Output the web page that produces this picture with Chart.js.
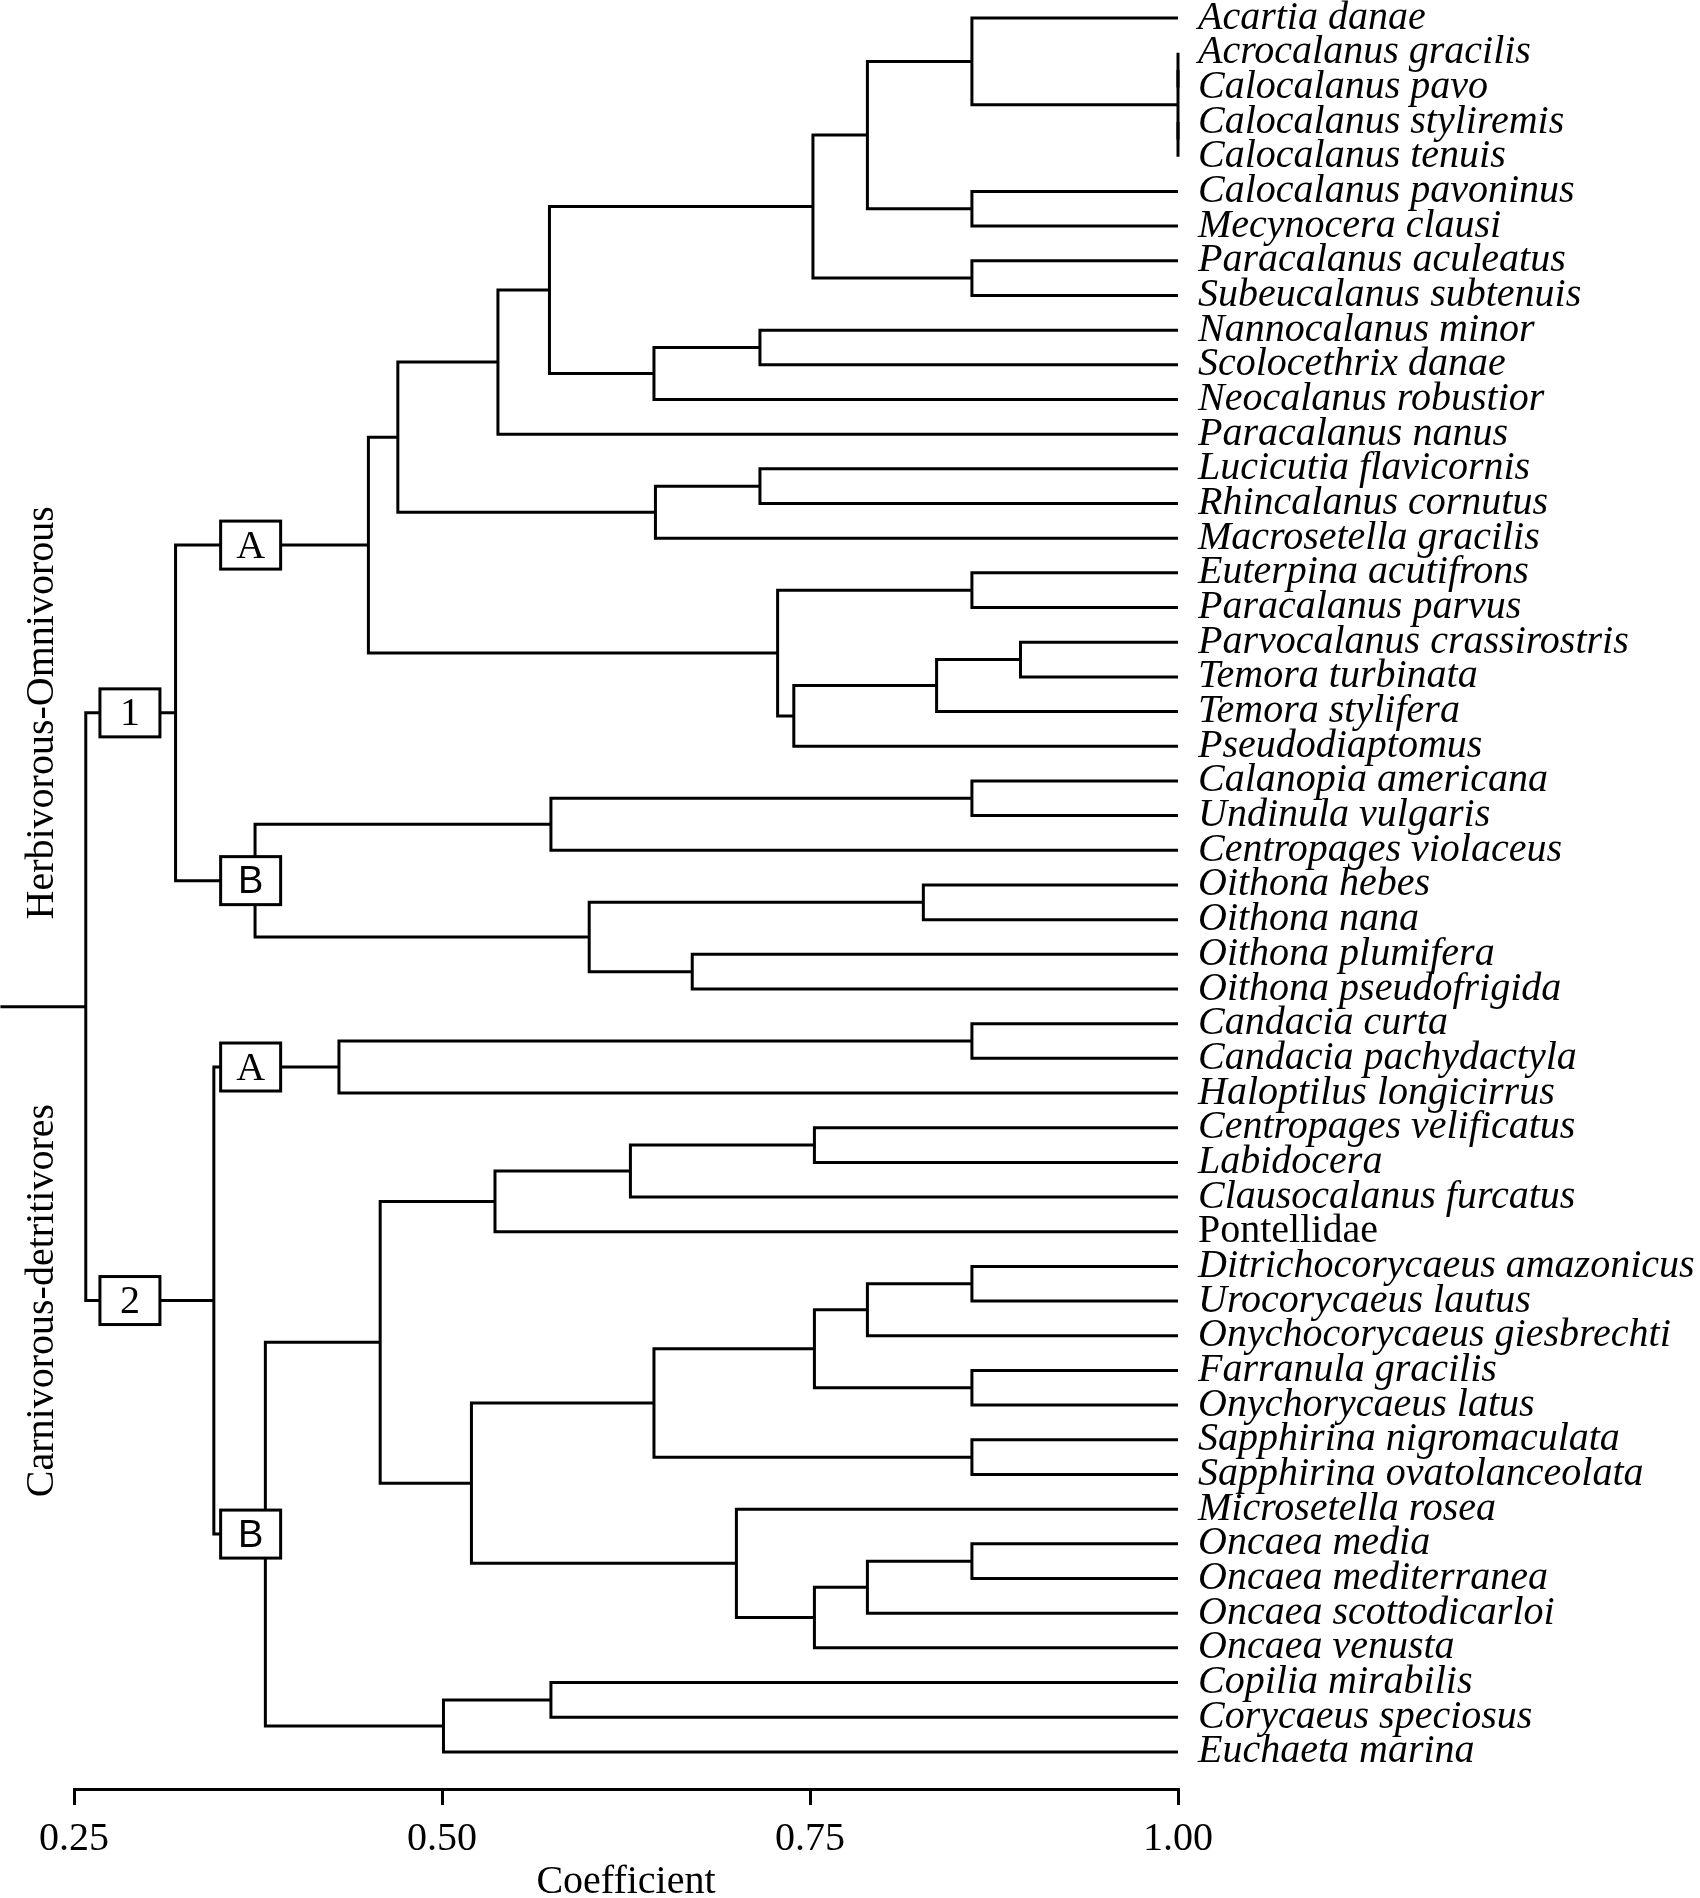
<!DOCTYPE html>
<html>
<head>
<meta charset="utf-8">
<script src="https://cdn.jsdelivr.net/npm/chart.js@4.4.1/dist/chart.umd.min.js"></script>
<style>
  html, body { margin: 0; padding: 0; background: #fff; }
  #wrap { width: 1700px; height: 1898px; }
</style>
</head>
<body>
<div id="wrap"><canvas id="dendro"></canvas></div>
<script>
// leaves, top to bottom
const species = [
  'Acartia danae', 'Acrocalanus gracilis', 'Calocalanus pavo', 'Calocalanus styliremis',
  'Calocalanus tenuis', 'Calocalanus pavoninus', 'Mecynocera clausi', 'Paracalanus aculeatus',
  'Subeucalanus subtenuis', 'Nannocalanus minor', 'Scolocethrix danae', 'Neocalanus robustior',
  'Paracalanus nanus', 'Lucicutia flavicornis', 'Rhincalanus cornutus', 'Macrosetella gracilis',
  'Euterpina acutifrons', 'Paracalanus parvus', 'Parvocalanus crassirostris', 'Temora turbinata',
  'Temora stylifera', 'Pseudodiaptomus', 'Calanopia americana', 'Undinula vulgaris',
  'Centropages violaceus', 'Oithona hebes', 'Oithona nana', 'Oithona plumifera',
  'Oithona pseudofrigida', 'Candacia curta', 'Candacia pachydactyla', 'Haloptilus longicirrus',
  'Centropages velificatus', 'Labidocera', 'Clausocalanus furcatus', 'Pontellidae',
  'Ditrichocorycaeus amazonicus', 'Urocorycaeus lautus', 'Onychocorycaeus giesbrechti', 'Farranula gracilis',
  'Onychorycaeus latus', 'Sapphirina nigromaculata', 'Sapphirina ovatolanceolata', 'Microsetella rosea',
  'Oncaea media', 'Oncaea mediterranea', 'Oncaea scottodicarloi', 'Oncaea venusta',
  'Copilia mirabilis', 'Corycaeus speciosus', 'Euchaeta marina'
];
const upright = ['Pontellidae'];

// [child, child, coefficient]; numbers are leaves, 'nK' is the K-th merge
const merges = [
  [1, 2, 1.00], [3, 4, 1.00], ['n0', 'n1', 1.00],           // n0-n2
  [0, 'n2', 0.860], [5, 6, 0.860], ['n3', 'n4', 0.789],     // n3-n5
  [7, 8, 0.860], ['n5', 'n6', 0.752], [9, 10, 0.716],       // n6-n8
  ['n8', 11, 0.644], ['n7', 'n9', 0.573], ['n10', 12, 0.538], // n9-n11
  [13, 14, 0.716], ['n12', 15, 0.645], ['n11', 'n13', 0.470], // n12-n14
  [16, 17, 0.860], [18, 19, 0.893], ['n16', 20, 0.836],     // n15-n17
  ['n17', 21, 0.739], ['n15', 'n18', 0.728], ['n14', 'n19', 0.450], // n18-n20
  [22, 23, 0.860], ['n21', 24, 0.574], [25, 26, 0.827],     // n21-n23
  [27, 28, 0.670], ['n23', 'n24', 0.600], ['n22', 'n25', 0.373], // n24-n26
  ['n20', 'n26', 0.319],                                    // n27
  [29, 30, 0.860], ['n28', 31, 0.430],                      // n28-n29
  [32, 33, 0.753], ['n30', 34, 0.628], ['n31', 35, 0.536],  // n30-n32
  [36, 37, 0.860], ['n33', 38, 0.789], [39, 40, 0.860],     // n33-n35
  ['n34', 'n35', 0.753], [41, 42, 0.860], ['n36', 'n37', 0.644], // n36-n38
  [44, 45, 0.860], ['n39', 46, 0.789], ['n40', 47, 0.753],  // n39-n41
  [43, 'n41', 0.700], ['n38', 'n42', 0.520], ['n32', 'n43', 0.458], // n42-n44
  [48, 49, 0.574], ['n45', 50, 0.501], ['n44', 'n46', 0.380], // n45-n47
  ['n29', 'n47', 0.345],                                    // n48
  ['n27', 'n48', 0.258]                                     // n49 root
];
const rootStem = 0.20;
const coefTicks = [0.25, 0.50, 0.75, 1.00];

const clusterBoxes = [
  { label: '1', node: 'n27', rank: 0 },
  { label: 'A', node: 'n20', rank: 1 },
  { label: 'B', node: 'n26', rank: 1 },
  { label: '2', node: 'n48', rank: 0 },
  { label: 'A', node: 'n29', rank: 1 },
  { label: 'B', node: 'n47', rank: 1 }
];
const dietGroups = [
  { text: 'Herbivorous-Omnivorous', node: 'n27' },
  { text: 'Carnivorous-detritivores', node: 'n48' }
];

const ink = '#000';
const serif = '"Liberation Serif", "Times New Roman", serif';

// place every node: leaves on their own row at 1.00, merges midway between children
const nodes = {};
species.forEach((name, i) => { nodes[i] = { x: 1.0, y: i }; });
merges.forEach(([a, b, h], k) => {
  nodes['n' + k] = { x: h, y: (nodes[a].y + nodes[b].y) / 2 };
});

const lineStyle = { showLine: true, borderColor: ink, borderWidth: 3, pointRadius: 0, clip: false };
const datasets = merges.map(([a, b, h]) => {
  const A = nodes[a], B = nodes[b];
  return Object.assign({
    data: [{ x: A.x, y: A.y }, { x: h, y: A.y }, { x: h, y: B.y }, { x: B.x, y: B.y }]
  }, lineStyle);
});
const root = nodes['n' + (merges.length - 1)];
datasets.push(Object.assign({ data: [{ x: root.x, y: root.y }, { x: rootStem, y: root.y }] }, lineStyle));

const clusterMarks = {
  id: 'clusterMarks',
  afterDatasetsDraw(chart, args, opts) {
    const { ctx, scales: { x, y } } = chart;
    ctx.save();
    ctx.textAlign = 'center';
    ctx.textBaseline = 'middle';
    clusterBoxes.forEach(b => {
      const cx = x.getPixelForValue(opts.boxAt[b.rank]);
      const cy = y.getPixelForValue(nodes[b.node].y);
      ctx.fillStyle = '#fff';
      ctx.fillRect(cx - 30, cy - 24, 60, 48);
      ctx.strokeStyle = ink;
      ctx.lineWidth = 3;
      ctx.strokeRect(cx - 30, cy - 24, 60, 48);
      ctx.fillStyle = ink;
      ctx.font = b.label === 'B' ? '38px "Liberation Sans", Arial, sans-serif' : '40px ' + serif;
      ctx.fillText(b.label, cx, cy + 2);
    });
    ctx.font = '40px ' + serif;
    dietGroups.forEach(g => {
      ctx.save();
      ctx.translate(opts.sideX, y.getPixelForValue(nodes[g.node].y));
      ctx.rotate(-Math.PI / 2);
      ctx.fillText(g.text, 0, 0);
      ctx.restore();
    });
    ctx.restore();
  }
};

new Chart(document.getElementById('dendro'), {
  type: 'scatter',
  data: { datasets },
  plugins: [clusterMarks],
  options: {
    responsive: true,
    maintainAspectRatio: false,
    devicePixelRatio: 1,
    animation: false,
    layout: { padding: { left: 74, top: 0, right: 0, bottom: 0 } },
    elements: { line: { tension: 0, borderJoinStyle: 'miter', borderCapStyle: 'butt' } },
    plugins: {
      legend: { display: false },
      tooltip: { enabled: false },
      clusterMarks: { boxAt: [0.288, 0.370], sideX: 42 }
    },
    scales: {
      x: {
        type: 'linear', position: 'bottom', min: 0.25, max: 1.0,
        afterBuildTicks: s => { s.ticks = coefTicks.map(v => ({ value: v })); },
        afterFit: s => { s.height = 109; s.paddingLeft = 0; s.paddingRight = 0; },
        grid: { drawOnChartArea: false, drawTicks: true, tickLength: 16, color: ink, lineWidth: 3 },
        border: { display: true, color: ink, width: 3 },
        ticks: {
          color: ink, padding: 10, maxRotation: 0, autoSkip: false,
          font: { family: serif, size: 40 },
          callback: v => v.toFixed(2)
        },
        title: {
          display: true, text: 'Coefficient', color: ink,
          font: { family: serif, size: 40, lineHeight: 1 }, padding: { top: 0, bottom: -4 }
        }
      },
      y: {
        type: 'linear', position: 'right', reverse: true, min: -0.52, max: 51.07,
        afterBuildTicks: s => { s.ticks = species.map((_, i) => ({ value: i })); },
        afterFit: s => { s.width = 522; s.paddingTop = 0; s.paddingBottom = 0; },
        grid: { display: false, drawTicks: false },
        border: { display: false },
        ticks: {
          autoSkip: false, padding: 20, color: ink,
          font: ctx => {
            const name = ctx.tick ? species[ctx.tick.value] : species[ctx.index];
            return { family: serif, size: 40, style: upright.includes(name) ? 'normal' : 'italic' };
          },
          callback: v => species[v]
        }
      }
    }
  }
});
</script>
</body>
</html>
